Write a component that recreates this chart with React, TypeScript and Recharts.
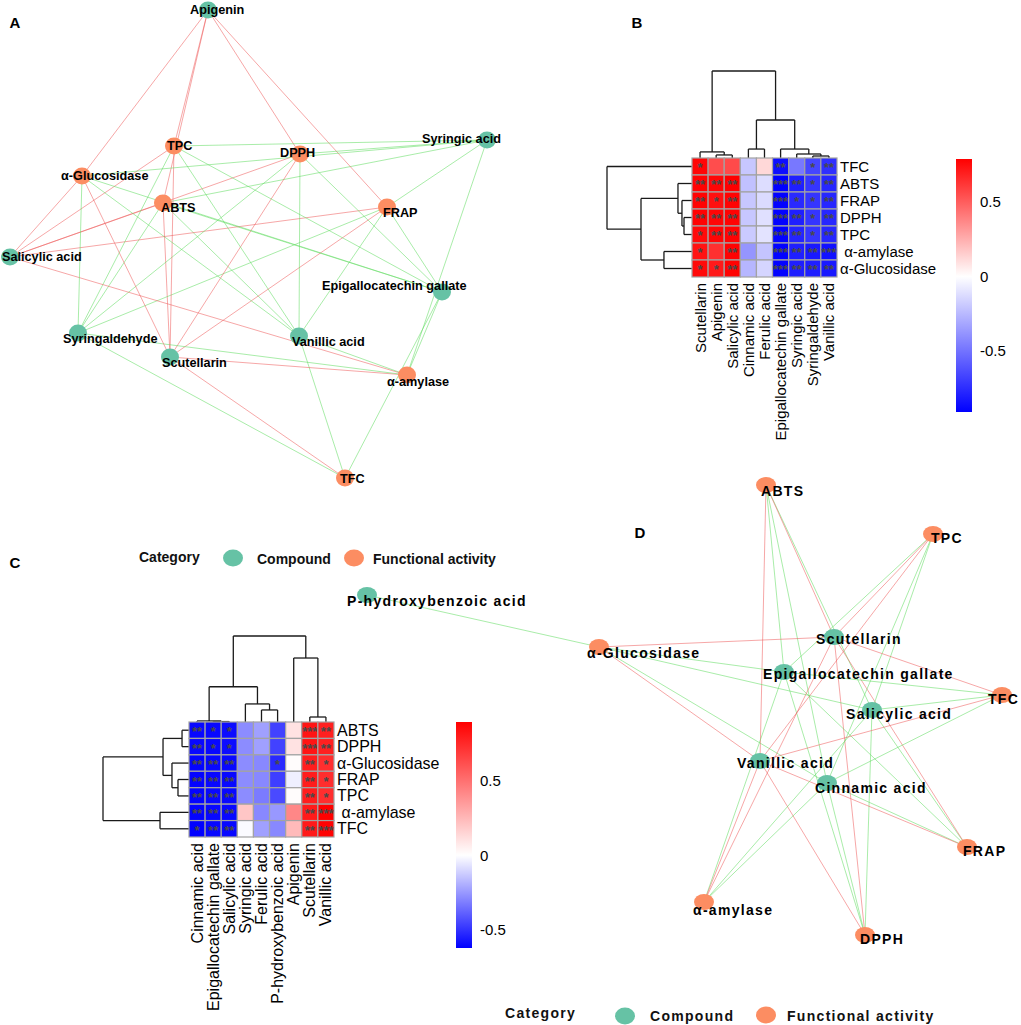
import React from "react"
import { ScatterChart, Scatter, XAxis, YAxis, ReferenceLine, ReferenceArea } from "recharts"

const FONT = "Arial, 'Liberation Sans', Helvetica, sans-serif"
const COMPOUND = "#66c2a5"
const ACTIVITY = "#fc8d62"
const EDGE_POS = "#ef5f5f"
const EDGE_NEG = "#62dc62"

// ---- panel B: correlation of compounds vs activities (first extract) ----
const bCols = [
  "Scutellarin", "Apigenin", "Salicylic acid", "Cinnamic acid", "Ferulic acid",
  "Epigallocatechin gallate", "Syringic acid", "Syringaldehyde", "Vanillic acid",
]
const bRows = ["TFC", "ABTS", "FRAP", "DPPH", "TPC", "α-amylase", "α-Glucosidase"]
const bR = [
  [0.77, 0.55, 0.56, -0.2, 0.12, -0.86, -0.48, -0.66, -0.74],
  [0.78, 0.77, 0.79, -0.22, -0.12, -0.91, -0.8, -0.72, -0.77],
  [0.78, 0.74, 0.78, -0.2, -0.13, -0.9, -0.76, -0.72, -0.77],
  [0.78, 0.77, 0.78, -0.2, -0.11, -0.9, -0.8, -0.72, -0.77],
  [0.76, 0.77, 0.78, -0.19, -0.1, -0.9, -0.78, -0.72, -0.77],
  [0.73, 0.64, 0.78, -0.38, -0.21, -0.9, -0.8, -0.82, -0.85],
  [0.76, 0.71, 0.78, -0.26, -0.15, -0.9, -0.8, -0.8, -0.82],
]
// 0 = ns, 1 = *, 2 = **, 3 = ***
const bSig = [
  [1, 0, 0, 0, 0, 2, 0, 1, 2],
  [2, 2, 2, 0, 0, 3, 2, 1, 2],
  [2, 1, 2, 0, 0, 3, 1, 1, 2],
  [2, 2, 2, 0, 0, 3, 2, 1, 2],
  [1, 2, 2, 0, 0, 3, 2, 1, 2],
  [1, 0, 2, 0, 0, 3, 2, 2, 3],
  [1, 1, 2, 0, 0, 3, 2, 2, 2],
]
// merges: [left, right, height 0..1]; number = earlier merge index
const bColTree: [string | number, string | number, number][] = [
  ["Apigenin", "Salicylic acid", 0.035],
  ["Scutellarin", 0, 0.07],
  ["Syringaldehyde", "Vanillic acid", 0.023],
  ["Syringic acid", 2, 0.046],
  ["Epigallocatechin gallate", 3, 0.103],
  ["Cinnamic acid", "Ferulic acid", 0.103],
  [5, 4, 0.437],
  [1, 6, 1],
]
const bRowTree: [string | number, string | number, number][] = [
  ["DPPH", "TPC", 0.094],
  ["FRAP", 0, 0.118],
  ["ABTS", 1, 0.165],
  ["α-amylase", "α-Glucosidase", 0.33],
  [2, 3, 0.6],
  ["TFC", 4, 1],
]
const barTicks = [-0.5, 0, 0.5]

// ---- panel C: second extract ----
const cCols = [
  "Cinnamic acid", "Epigallocatechin gallate", "Salicylic acid", "Syringic acid", "Ferulic acid",
  "P-hydroxybenzoic acid", "Apigenin", "Scutellarin", "Vanillic acid",
]
const cRows = ["ABTS", "DPPH", "α-Glucosidase", "FRAP", "TPC", "α-amylase", "TFC"]
const cR = [
  [-0.6, -0.6, -0.59, -0.28, -0.23, -0.46, 0.1, 0.82, 0.78],
  [-0.6, -0.6, -0.59, -0.28, -0.23, -0.46, 0.1, 0.82, 0.78],
  [-0.61, -0.6, -0.6, -0.28, -0.29, -0.52, 0.01, 0.79, 0.73],
  [-0.61, -0.6, -0.6, -0.28, -0.29, -0.47, -0.04, 0.79, 0.73],
  [-0.61, -0.6, -0.6, -0.28, -0.32, -0.44, 0.01, 0.79, 0.73],
  [-0.61, -0.6, -0.6, 0.2, -0.29, -0.25, 0.42, 0.8, 0.89],
  [-0.62, -0.6, -0.6, -0.01, -0.23, -0.29, 0.24, 0.8, 0.88],
]
const cSig = [
  [2, 1, 1, 0, 0, 0, 0, 3, 2],
  [2, 1, 1, 0, 0, 0, 0, 3, 2],
  [2, 2, 2, 0, 0, 1, 0, 2, 1],
  [2, 2, 2, 0, 0, 0, 0, 2, 1],
  [2, 2, 2, 0, 0, 0, 0, 2, 1],
  [2, 2, 2, 0, 0, 0, 0, 2, 3],
  [1, 2, 2, 0, 0, 0, 0, 2, 3],
]
const cColTree: [string | number, string | number, number][] = [
  ["Epigallocatechin gallate", "Salicylic acid", 0.005],
  ["Cinnamic acid", 0, 0.012],
  ["Ferulic acid", "P-hydroxybenzoic acid", 0.14],
  ["Syringic acid", 2, 0.21],
  [1, 3, 0.41],
  ["Scutellarin", "Vanillic acid", 0.058],
  ["Apigenin", 5, 0.744],
  [4, 6, 1],
]
const cRowTree: [string | number, string | number, number][] = [
  ["ABTS", "DPPH", 0.081],
  ["FRAP", "TPC", 0.128],
  ["α-Glucosidase", 1, 0.198],
  [0, 2, 0.302],
  ["α-amylase", "TFC", 0.337],
  [3, 4, 1],
]

// ---- network layouts (page coordinates) ----
type NetNode = { name: string; kind: "c" | "a"; x: number; y: number; lx: number; ly: number }
const netANodes: NetNode[] = [
  { name: "Apigenin", kind: "c", x: 208, y: 10, lx: 190, ly: 10 },
  { name: "TPC", kind: "a", x: 174, y: 146, lx: 167, ly: 146 },
  { name: "DPPH", kind: "a", x: 300, y: 154, lx: 280, ly: 153 },
  { name: "Syringic acid", kind: "c", x: 487, y: 140, lx: 422, ly: 139 },
  { name: "α-Glucosidase", kind: "a", x: 82, y: 176, lx: 61, ly: 176 },
  { name: "ABTS", kind: "a", x: 163, y: 203, lx: 161, ly: 208 },
  { name: "FRAP", kind: "a", x: 387, y: 207, lx: 383, ly: 213 },
  { name: "Salicylic acid", kind: "c", x: 10, y: 257, lx: 2, ly: 257 },
  { name: "Epigallocatechin gallate", kind: "c", x: 442, y: 292, lx: 322, ly: 286 },
  { name: "Syringaldehyde", kind: "c", x: 78, y: 333, lx: 63, ly: 339 },
  { name: "Vanillic acid", kind: "c", x: 299, y: 336, lx: 292, ly: 342 },
  { name: "Scutellarin", kind: "c", x: 170, y: 357, lx: 162, ly: 363 },
  { name: "α-amylase", kind: "a", x: 407, y: 375, lx: 387, ly: 382 },
  { name: "TFC", kind: "a", x: 345, y: 478, lx: 340, ly: 479 },
]
const netDNodes: NetNode[] = [
  { name: "ABTS", kind: "a", x: 766, y: 485, lx: 761, ly: 491 },
  { name: "TPC", kind: "a", x: 933, y: 534, lx: 931, ly: 538 },
  { name: "Scutellarin", kind: "c", x: 834, y: 637, lx: 816, ly: 639 },
  { name: "α-Glucosidase", kind: "a", x: 599, y: 647, lx: 587, ly: 653 },
  { name: "Epigallocatechin gallate", kind: "c", x: 784, y: 672, lx: 763, ly: 674 },
  { name: "TFC", kind: "a", x: 1002, y: 695, lx: 988, ly: 699 },
  { name: "Salicylic acid", kind: "c", x: 872, y: 710, lx: 846, ly: 714 },
  { name: "Vanillic acid", kind: "c", x: 760, y: 761, lx: 737, ly: 763 },
  { name: "Cinnamic acid", kind: "c", x: 827, y: 783, lx: 815, ly: 788 },
  { name: "FRAP", kind: "a", x: 967, y: 847, lx: 963, ly: 851 },
  { name: "α-amylase", kind: "a", x: 704, y: 902, lx: 693, ly: 910 },
  { name: "DPPH", kind: "a", x: 865, y: 935, lx: 860, ly: 939 },
  { name: "P-hydroxybenzoic acid", kind: "c", x: 367, y: 595, lx: 347, ly: 601 },
]

const legendC = [
  { x: 139, y: 557, text: "Category" },
  { x: 233, y: 558, kind: "c" },
  { x: 257, y: 559, text: "Compound" },
  { x: 354, y: 558, kind: "a" },
  { x: 373, y: 559, text: "Functional activity" },
]
const legendD = [
  { x: 505, y: 1013, text: "Category" },
  { x: 625, y: 1016, kind: "c" },
  { x: 650, y: 1016, text: "Compound" },
  { x: 766, y: 1015, kind: "a" },
  { x: 787, y: 1016, text: "Functional activity" },
]
const panelLetters = [
  { x: 15, y: 22, text: "A" },
  { x: 637, y: 22, text: "B" },
  { x: 15, y: 562, text: "C" },
  { x: 640, y: 532, text: "D" },
]

function buildEdges(nodes: NetNode[], rows: string[], cols: string[], r: number[][], sig: number[][]) {
  const byName = new Map(nodes.map((n) => [n.name, n]))
  const edges: { a: NetNode; c: NetNode; r: number }[] = []
  rows.forEach((row, i) =>
    cols.forEach((col, j) => {
      const a = byName.get(row)
      const c = byName.get(col)
      if (a && c && sig[i][j] > 0) edges.push({ a, c, r: r[i][j] })
    })
  )
  return edges
}

function treeSegments(leaves: string[], merges: [string | number, string | number, number][]) {
  const pos: number[] = []
  const hts: number[] = []
  const segs: [number, number, number, number][] = []
  const get = (ref: string | number) =>
    typeof ref === "number" ? { p: pos[ref], h: hts[ref] } : { p: leaves.indexOf(ref), h: 0 }
  merges.forEach(([a, b, h], k) => {
    const A = get(a)
    const B = get(b)
    segs.push([A.p, A.h, A.p, h], [B.p, B.h, B.p, h], [A.p, h, B.p, h])
    pos[k] = (A.p + B.p) / 2
    hts[k] = h
  })
  return segs
}

function heatColor(v: number, min: number, max: number) {
  const t = v >= 0 ? Math.min(v / max, 1) : Math.min(v / min, 1)
  const k = Math.round(255 * (1 - t))
  return v >= 0 ? `rgb(255,${k},${k})` : `rgb(${k},${k},255)`
}

const flatMin = (m: number[][]) => Math.min(...m.flat())
const flatMax = (m: number[][]) => Math.max(...m.flat())

interface HeatProps {
  rows: string[]
  cols: string[]
  r: number[][]
  sig: number[][]
  rowTree: [string | number, string | number, number][]
  colTree: [string | number, string | number, number][]
  gridLeft: number
  gridTop: number
  cellW: number
  cellH: number
  rowTreeW: number
  colTreeH: number
  fontSize: number
}

const Heatmap: React.FC<HeatProps> = ({
  rows, cols, r, sig, rowTree, colTree, gridLeft, gridTop, cellW, cellH, rowTreeW, colTreeH, fontSize,
}) => {
  const pad = 4
  const right = 150
  const bottom = 200
  const width = pad + rowTreeW + cols.length * cellW + right
  const height = pad + colTreeH + rows.length * cellH + bottom
  const min = flatMin(r)
  const max = flatMax(r)
  const cells = rows.flatMap((_, i) => cols.map((_, j) => ({ x: j, y: i, v: r[i][j], s: sig[i][j] })))
  const rowLabels = rows.map((row, i) => ({
    x: cols.length - 0.5,
    y: i,
    text: row === "α-amylase" ? " α-amylase" : row,
  }))
  const colLabels = cols.map((col, j) => ({ x: j, y: rows.length - 0.5, text: col }))
  const colSegs = treeSegments(cols, colTree).map(([p1, h1, p2, h2]) => [
    { x: p1, y: -0.5 - (h1 * colTreeH) / cellH },
    { x: p2, y: -0.5 - (h2 * colTreeH) / cellH },
  ])
  const rowSegs = treeSegments(rows, rowTree).map(([p1, h1, p2, h2]) => [
    { x: -0.5 - (h1 * rowTreeW) / cellW, y: p1 },
    { x: -0.5 - (h2 * rowTreeW) / cellW, y: p2 },
  ])

  return (
    <div style={{ position: "absolute", left: gridLeft - rowTreeW - pad, top: gridTop - colTreeH - pad }}>
      <ScatterChart width={width} height={height} margin={{ top: pad, left: pad, right, bottom }}>
        <XAxis type="number" dataKey="x" domain={[-0.5 - rowTreeW / cellW, cols.length - 0.5]} hide />
        <YAxis type="number" dataKey="y" domain={[-0.5 - colTreeH / cellH, rows.length - 0.5]} reversed hide />
        {[...colSegs, ...rowSegs].map((seg, k) => (
          <ReferenceLine key={k} segment={seg} stroke="#1a1a1a" strokeWidth={1.3} ifOverflow="visible" />
        ))}
        <Scatter
          data={cells}
          isAnimationActive={false}
          shape={(p: any) => (
            <g>
              <rect
                x={p.cx - cellW / 2}
                y={p.cy - cellH / 2}
                width={cellW}
                height={cellH}
                fill={heatColor(p.payload.v, min, max)}
                stroke="#a3a3a3"
                strokeWidth={1.2}
              />
              {p.payload.s > 0 && (
                <text
                  x={p.cx}
                  y={p.cy + 6}
                  textAnchor="middle"
                  fontSize={13}
                  fontWeight="bold"
                  fontFamily={FONT}
                  fill="#4a4a4a"
                >
                  {"*".repeat(p.payload.s)}
                </text>
              )}
            </g>
          )}
        />
        <Scatter
          data={rowLabels}
          isAnimationActive={false}
          shape={(p: any) => (
            <text
              x={p.cx + 3}
              y={p.cy}
              dominantBaseline="central"
              fontSize={fontSize}
              fontFamily={FONT}
              fill="#000"
              style={{ whiteSpace: "pre" }}
            >
              {p.payload.text}
            </text>
          )}
        />
        <Scatter
          data={colLabels}
          isAnimationActive={false}
          shape={(p: any) => (
            <text
              x={p.cx}
              y={p.cy + 6}
              transform={`rotate(-90 ${p.cx} ${p.cy + 6})`}
              textAnchor="end"
              dominantBaseline="central"
              fontSize={fontSize}
              fontFamily={FONT}
              fill="#000"
            >
              {p.payload.text}
            </text>
          )}
        />
      </ScatterChart>
    </div>
  )
}

const ColorBar: React.FC<{ id: string; r: number[][]; left: number; top: number; barW: number; barH: number }> = ({
  id, r, left, top, barW, barH,
}) => {
  const min = flatMin(r)
  const max = flatMax(r)
  const zero = max / (max - min)
  const axisW = 50
  // the range ends carry the gradient, the ticks carry the labels
  const ends = [
    { x: 0, y: min },
    { x: 1, y: max },
  ]
  return (
    <div style={{ position: "absolute", left: left - 2, top: top - 10 }}>
      <ScatterChart width={barW + 2 + axisW} height={barH + 20} margin={{ top: 10, bottom: 10, left: 2, right: 0 }}>
        <defs>
          <linearGradient id={id} x1="0" y1="0" x2="0" y2="1">
            <stop offset="0" stopColor="#ff0000" />
            <stop offset={zero} stopColor="#ffffff" />
            <stop offset="1" stopColor="#0000ff" />
          </linearGradient>
        </defs>
        <XAxis type="number" dataKey="x" domain={[0, 1]} hide />
        <YAxis
          type="number"
          dataKey="y"
          orientation="right"
          domain={[min, max]}
          ticks={barTicks}
          axisLine={false}
          tickLine={false}
          width={axisW}
          tick={{ fontSize: 15, fill: "#000", fontFamily: FONT }}
        />
        <ReferenceArea x1={0} x2={1} y1={min} y2={max} ifOverflow="visible" fill={`url(#${id})`} fillOpacity={1} />
        <Scatter data={ends} isAnimationActive={false} shape={() => <g />} />
      </ScatterChart>
    </div>
  )
}

const edgesA = buildEdges(netANodes, bRows, bCols, bR, bSig)
const edgesD = buildEdges(netDNodes, cRows, cCols, cR, cSig)

const labelData = (nodes: NetNode[]) => nodes.map((n) => ({ x: n.lx, y: n.ly, text: n.name }))

const legendShape = (spacing: number) => (p: any) =>
  p.payload.kind ? (
    <ellipse cx={p.cx} cy={p.cy} rx={10} ry={8.5} fill={p.payload.kind === "c" ? COMPOUND : ACTIVITY} />
  ) : (
    <text
      x={p.cx}
      y={p.cy}
      dominantBaseline="central"
      fontSize={14}
      fontWeight="bold"
      fontFamily={FONT}
      letterSpacing={spacing}
      fill="#111"
    >
      {p.payload.text}
    </text>
  )

const nodeShape = (rx: number, ry: number) => (p: any) =>
  <ellipse cx={p.cx} cy={p.cy} rx={rx} ry={ry} fill={p.payload.kind === "c" ? COMPOUND : ACTIVITY} />

const labelShape = (size: number, spacing: number) => (p: any) => (
  <text
    x={p.cx}
    y={p.cy}
    dominantBaseline="central"
    fontSize={size}
    fontWeight="bold"
    fontFamily={FONT}
    letterSpacing={spacing}
    fill="#000"
  >
    {p.payload.text}
  </text>
)

export default function App() {
  return (
    <div style={{ position: "absolute", left: 0, top: 0, width: 1021, height: 1025, background: "#fff" }}>
      <div style={{ position: "absolute", left: 0, top: 0 }}>
        <ScatterChart width={1021} height={1025} margin={{ top: 0, left: 0, right: 0, bottom: 0 }}>
          <XAxis type="number" dataKey="x" domain={[0, 1021]} hide />
          <YAxis type="number" dataKey="y" domain={[0, 1025]} reversed hide />
          {[...edgesA, ...edgesD].map((e, k) => (
            <ReferenceLine
              key={k}
              segment={[{ x: e.c.x, y: e.c.y }, { x: e.a.x, y: e.a.y }]}
              stroke={e.r > 0 ? EDGE_POS : EDGE_NEG}
              strokeOpacity={0.55}
              strokeWidth={1}
              ifOverflow="visible"
            />
          ))}
          <Scatter data={netANodes} isAnimationActive={false} shape={nodeShape(9, 8.5)} />
          <Scatter data={netDNodes} isAnimationActive={false} shape={nodeShape(10, 8)} />
          <Scatter data={labelData(netANodes)} isAnimationActive={false} shape={labelShape(12.7, 0)} />
          <Scatter data={labelData(netDNodes)} isAnimationActive={false} shape={labelShape(14, 1.3)} />
          <Scatter data={legendC} isAnimationActive={false} shape={legendShape(0)} />
          <Scatter data={legendD} isAnimationActive={false} shape={legendShape(1.3)} />
          <Scatter
            data={panelLetters}
            isAnimationActive={false}
            shape={(p: any) => (
              <text
                x={p.cx}
                y={p.cy}
                textAnchor="middle"
                dominantBaseline="central"
                fontSize={15}
                fontWeight="bold"
                fontFamily={FONT}
                fill="#000"
              >
                {p.payload.text}
              </text>
            )}
          />
        </ScatterChart>
      </div>
      <Heatmap
        rows={bRows}
        cols={bCols}
        r={bR}
        sig={bSig}
        rowTree={bRowTree}
        colTree={bColTree}
        gridLeft={692}
        gridTop={158}
        cellW={16.11}
        cellH={17}
        rowTreeW={85}
        colTreeH={87}
        fontSize={15}
      />
      <ColorBar id="gradB" r={bR} left={956} top={159} barW={16} barH={253} />
      <Heatmap
        rows={cRows}
        cols={cCols}
        r={cR}
        sig={cSig}
        rowTree={cRowTree}
        colTree={cColTree}
        gridLeft={189}
        gridTop={722}
        cellW={16.11}
        cellH={16.43}
        rowTreeW={86}
        colTreeH={86}
        fontSize={16}
      />
      <ColorBar id="gradC" r={cR} left={456} top={722} barW={16} barH={226} />
    </div>
  )
}
